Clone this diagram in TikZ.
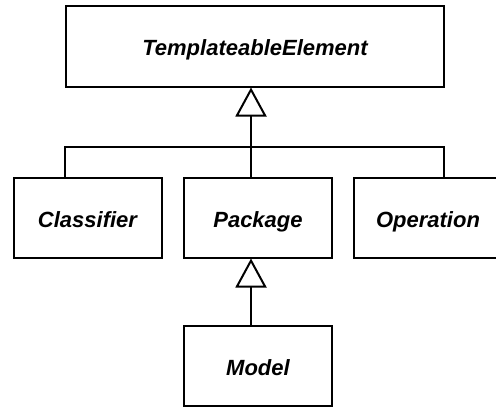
\documentclass[tikz,border=0pt]{standalone}
\usepackage{fontspec}
\setmainfont{Liberation Sans}
\usetikzlibrary{arrows.meta}
\begin{document}
\begin{tikzpicture}[x=1pt,y=-1pt,
  cls/.style={draw,line width=2pt,fill=white,minimum height=80pt,inner sep=0pt,
    text height=19pt,text depth=0pt,
    font=\fontsize{22}{24}\selectfont\bfseries\itshape},
  gen/.style={line width=2pt,-{Triangle[open,length=29pt,width=31pt,line width=2pt]}},
  conn/.style={line width=2pt}]
\useasboundingbox (0,0) rectangle (496,407);
\node[cls,minimum width=378pt,minimum height=81pt] (top) at (255,46) {TemplateableElement};
\node[cls,minimum width=148pt] (cl) at (87.5,217.5) {Classifier};
\node[cls,minimum width=148pt] (pk) at (258,217.5) {Package};
\node[cls,minimum width=148pt] (op) at (428,217.5) {Operation};
\node[cls,minimum width=148pt] (md) at (258,366) {Model};
\coordinate (j) at (251,147);
\draw[conn] (cl.north -| 65,0) |- (j);
\draw[conn] (op.north -| 444,0) |- (j);
\draw[conn] (pk.north -| j) -- (j);
\draw[gen] (j) -- (j |- top.south);
\draw[gen] (md.north -| j) -- (j |- pk.south);
\end{tikzpicture}
\end{document}
